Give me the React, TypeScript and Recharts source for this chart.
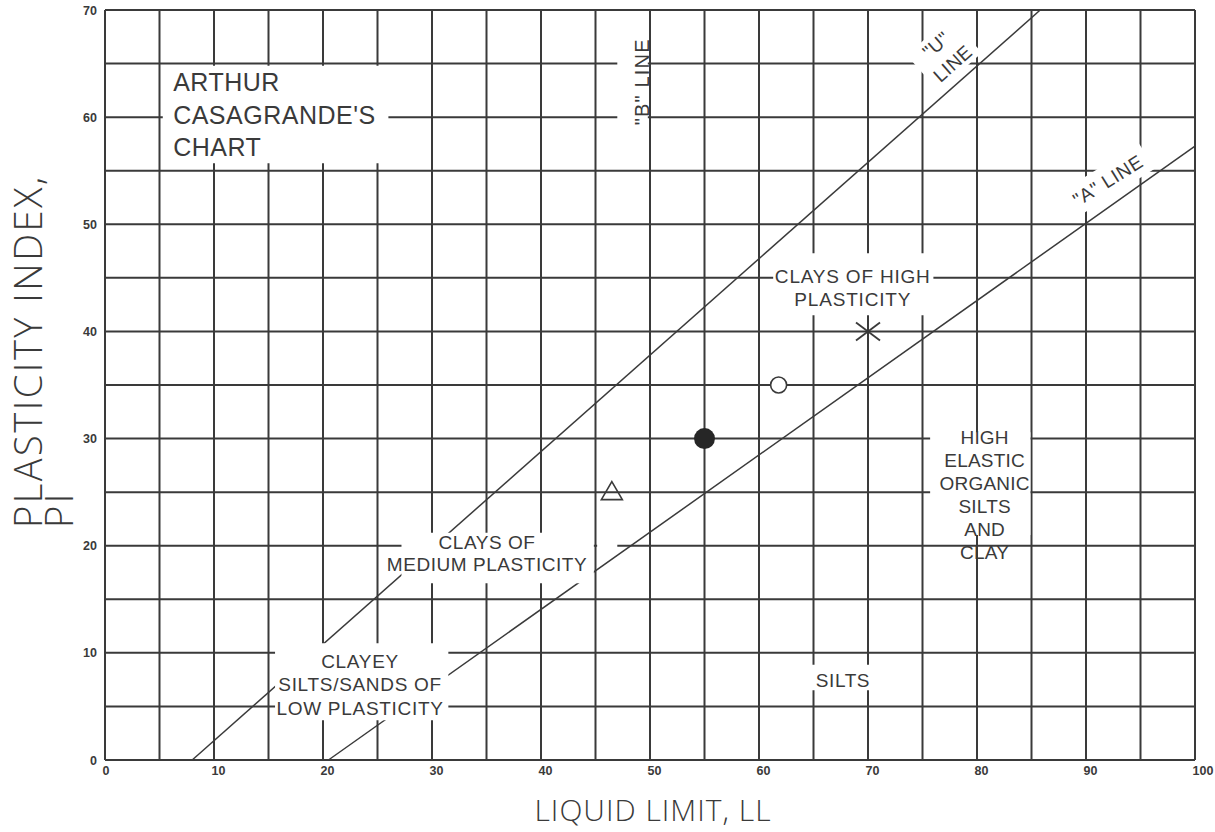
import {
  ComposedChart,
  XAxis,
  YAxis,
  CartesianGrid,
  Line,
  Scatter,
  ReferenceArea,
  ReferenceDot,
  Label,
} from 'recharts';

// grid every 5, numbers every 10
const xTicks = [0, 5, 10, 15, 20, 25, 30, 35, 40, 45, 50, 55, 60, 65, 70, 75, 80, 85, 90, 95, 100];
const yTicks = [0, 5, 10, 15, 20, 25, 30, 35, 40, 45, 50, 55, 60, 65, 70];

// "U" and "A" lines (LL, PI)
const uLine = [
  { ll: 8, pi: 0 },
  { ll: 85.8, pi: 70 },
];
const aLine = [
  { ll: 20.5, pi: 0 },
  { ll: 100, pi: 57.3 },
];

// test samples
const triangleSample = [{ ll: 46.5, pi: 25 }];
const solidSample = [{ ll: 55, pi: 30 }];
const circleSample = [{ ll: 61.8, pi: 35 }];
const crossSample = [{ ll: 70, pi: 40 }];

// zone captions
const chartTitle = ['ARTHUR', "CASAGRANDE'S", 'CHART'];
const bLineText = ['"B" LINE'];
const uLineText = ['"U"', 'LINE'];
const aLineText = ['"A" LINE'];
const highClayText = ['CLAYS OF HIGH', 'PLASTICITY'];
const organicText = ['HIGH', 'ELASTIC', 'ORGANIC', 'SILTS', 'AND', 'CLAY'];
const mediumClayText = ['CLAYS OF', 'MEDIUM PLASTICITY'];
const lowText = ['CLAYEY', 'SILTS/SANDS OF', 'LOW PLASTICITY'];
const siltText = ['SILTS'];

const INK = '#3a3a3a';
const FONT = '"Liberation Sans", Arial, sans-serif';
const TITLE_FONT = '"Open Sans", "Liberation Sans", sans-serif';

type BlockProps = {
  cx?: number;
  cy?: number;
  lines: string[];
  size: number;
  lh: number;
  anchor?: 'start' | 'middle' | 'end';
  angle?: number;
  box?: [number, number];
  spacing?: number;
};

function TextBlock({ cx = 0, cy = 0, lines, size, lh, anchor = 'middle', angle = 0, box, spacing = 0.6 }: BlockProps) {
  return (
    <g transform={`translate(${cx},${cy}) rotate(${angle})`}>
      {box && <rect x={-box[0] / 2} y={-box[1] / 2} width={box[0]} height={box[1]} fill="#fff" />}
      {lines.map((t, i) => (
        <text
          key={i}
          x={0}
          y={(i - (lines.length - 1) / 2) * lh}
          dy="0.358em"
          textAnchor={anchor}
          fontSize={size}
          fontFamily={FONT}
          letterSpacing={spacing}
          fill={INK}
        >
          {t}
        </text>
      ))}
    </g>
  );
}

const XTick = ({ x, y, payload }: any) =>
  payload.value % 10 === 0 ? (
    <text x={x - 2.5} y={y} dy="0.55em" textAnchor="start" fontSize={12.5} fontWeight="bold" fontFamily={FONT} fill={INK}>
      {payload.value}
    </text>
  ) : null;

const YTick = ({ x, y, payload }: any) =>
  payload.value % 10 === 0 ? (
    <text x={x} y={y} dy="0.36em" textAnchor="end" fontSize={12.5} fontWeight="bold" fontFamily={FONT} fill={INK}>
      {payload.value}
    </text>
  ) : null;

const XTitle = ({ viewBox }: any) => (
  <text
    x={viewBox.x + viewBox.width / 2 + 3}
    y={viewBox.y + 61}
    textAnchor="middle"
    fontSize={30}
    fontFamily={TITLE_FONT}
    fontWeight={300}
    letterSpacing={1}
    fill={INK}
  >
    LIQUID LIMIT, LL
  </text>
);

const YTitle = () => (
  <g fontSize={38} fontFamily={TITLE_FONT} fontWeight={300} fill={INK} letterSpacing={2.5}>
    <text transform="translate(42,528) rotate(-90)">PLASTICITY INDEX,</text>
    <text transform="translate(73,528) rotate(-90)">PI</text>
  </g>
);

const Triangle = ({ cx, cy }: any) => (
  <polygon
    points={`${cx},${cy - 10.5} ${cx + 10.5},${cy + 7.5} ${cx - 10.5},${cy + 7.5}`}
    fill="none"
    stroke={INK}
    strokeWidth={1.6}
  />
);
const Solid = ({ cx, cy }: any) => <circle cx={cx} cy={cy} r={10.5} fill="#262626" />;
const Ring = ({ cx, cy }: any) => <circle cx={cx} cy={cy} r={8} fill="#fff" stroke={INK} strokeWidth={1.6} />;
const Cross = ({ cx, cy }: any) => (
  <g stroke={INK} strokeWidth={1.8}>
    <line x1={cx - 12} y1={cy - 9} x2={cx + 12} y2={cy + 9} />
    <line x1={cx - 12} y1={cy + 9} x2={cx + 12} y2={cy - 9} />
  </g>
);

const mask = { fill: '#fff', fillOpacity: 1, stroke: 'none', ifOverflow: 'visible' as const, zIndex: 450 };

export default function App() {
  return (
    <div style={{ position: 'absolute', left: 0, top: 0, background: '#fff' }}>
      <ComposedChart width={1215} height={832} margin={{ top: 10, right: 20, bottom: 42, left: 65 }}>
        <CartesianGrid stroke={INK} strokeWidth={2} strokeOpacity={1} />
        <XAxis
          dataKey="ll"
          type="number"
          domain={[0, 100]}
          ticks={xTicks}
          interval={0}
          axisLine={false}
          tickLine={false}
          tick={<XTick />}
          height={30}
        >
          <Label content={<XTitle />} />
        </XAxis>
        <YAxis
          dataKey="pi"
          type="number"
          domain={[0, 70]}
          ticks={yTicks}
          interval={0}
          axisLine={false}
          tickLine={false}
          tick={<YTick />}
          width={40}
        >
          <Label content={<YTitle />} />
        </YAxis>

        <Line data={uLine} dataKey="pi" stroke={INK} strokeWidth={1.5} dot={false} activeDot={false} isAnimationActive={false} />
        <Line data={aLine} dataKey="pi" stroke={INK} strokeWidth={1.5} dot={false} activeDot={false} isAnimationActive={false} />

        {/* white gaps cut into the grid behind the captions */}
        <ReferenceArea x1={5.3} x2={26} y1={55.7} y2={64.8} {...mask} />
        <ReferenceArea x1={47} x2={49.8} y1={59.3} y2={67.2} {...mask} />
        <ReferenceArea x1={61.3} x2={76} y1={41.5} y2={47.3} {...mask} />
        <ReferenceArea x1={75.7} x2={84.9} y1={21} y2={30.6} {...mask} />
        <ReferenceArea x1={64.5} x2={70.5} y1={6.5} y2={8.9} {...mask} />
        <ReferenceArea x1={27.2} x2={44.85} y1={16.5} y2={21.2} {...mask} />
        <ReferenceArea x1={45.15} x2={47} y1={19.6} y2={20.4} {...mask} />
        <ReferenceArea x1={15.6} x2={31.5} y1={3.7} y2={10.9} {...mask} />

        <ReferenceDot x={6.25} y={60.2} r={0} zIndex={700}
          shape={(p: any) => <TextBlock cx={p.cx} cy={p.cy} lines={chartTitle} size={25} lh={32.5} anchor="start" spacing={0.5} />} />
        <ReferenceDot x={49.27} y={63.3} r={0} zIndex={700}
          shape={(p: any) => <TextBlock cx={p.cx} cy={p.cy} lines={bLineText} size={20} lh={22} angle={-90} spacing={1.2} />} />
        <ReferenceDot x={77} y={65.9} r={0} zIndex={700}
          shape={(p: any) => <TextBlock cx={p.cx} cy={p.cy} lines={uLineText} size={19} lh={25} angle={-41.5} box={[58, 48]} />} />
        <ReferenceDot x={92} y={54.1} r={0} zIndex={700}
          shape={(p: any) => <TextBlock cx={p.cx} cy={p.cy} lines={aLineText} size={19} lh={22} angle={-32} box={[92, 30]} />} />
        <ReferenceDot x={68.6} y={44.1} r={0} zIndex={700}
          shape={(p: any) => <TextBlock cx={p.cx} cy={p.cy} lines={highClayText} size={19} lh={22.5} spacing={0.8} />} />
        <ReferenceDot x={80.7} y={24.8} r={0} zIndex={700}
          shape={(p: any) => <TextBlock cx={p.cx} cy={p.cy} lines={organicText} size={19} lh={23} spacing={0.2} />} />
        <ReferenceDot x={35.05} y={19.3} r={0} zIndex={700}
          shape={(p: any) => <TextBlock cx={p.cx} cy={p.cy} lines={mediumClayText} size={19} lh={22} spacing={0.55} />} />
        <ReferenceDot x={23.4} y={7.05} r={0} zIndex={700}
          shape={(p: any) => <TextBlock cx={p.cx} cy={p.cy} lines={lowText} size={19} lh={23.3} spacing={0.7} />} />
        <ReferenceDot x={67.7} y={7.42} r={0} zIndex={700}
          shape={(p: any) => <TextBlock cx={p.cx} cy={p.cy} lines={siltText} size={19} lh={22} />} />

        <Scatter data={triangleSample} dataKey="pi" shape={<Triangle />} isAnimationActive={false} zIndex={800} />
        <Scatter data={solidSample} dataKey="pi" shape={<Solid />} isAnimationActive={false} zIndex={800} />
        <Scatter data={circleSample} dataKey="pi" shape={<Ring />} isAnimationActive={false} zIndex={800} />
        <Scatter data={crossSample} dataKey="pi" shape={<Cross />} isAnimationActive={false} zIndex={800} />
      </ComposedChart>
    </div>
  );
}
